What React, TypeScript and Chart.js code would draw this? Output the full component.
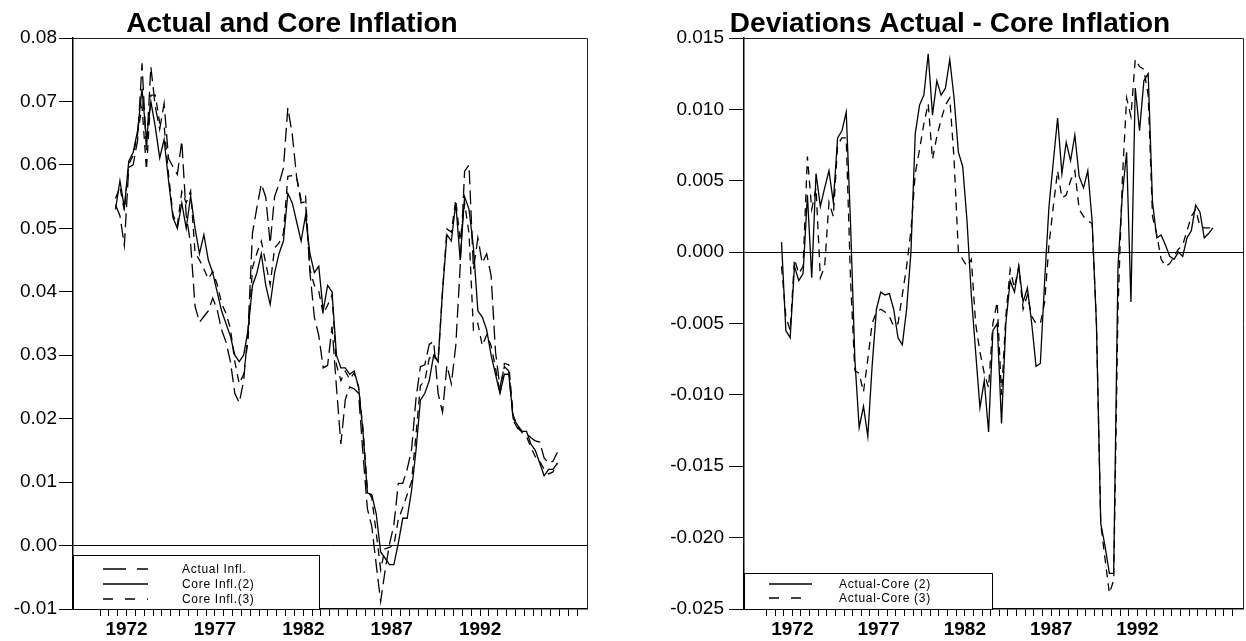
import React, { useEffect, useRef } from "react";
import { Chart, registerables } from "chart.js";

Chart.register(...registerables);

const FONT = '"Liberation Sans", Arial, Helvetica, sans-serif';

// Quarterly observations, 1971 Q2 – 1996 Q2, plotted at mid-quarter.
const FIRST_QUARTER = 1971.375;
const QUARTER_COUNT = 101;
const quarterTimes = Array.from({ length: QUARTER_COUNT }, (_, i) => FIRST_QUARTER + i * 0.25);

// Year-on-year inflation rates
const actualInfl = [
  0.0537, 0.052, 0.0473,
  0.0596, 0.06, 0.0639, 0.076,
  0.0622, 0.0755, 0.0692, 0.0656,
  0.0697, 0.061, 0.0597, 0.0585,
  0.0638, 0.052, 0.0476, 0.0377,
  0.0352, 0.0361, 0.037, 0.039,
  0.0372, 0.034, 0.0321, 0.029,
  0.024, 0.0225, 0.026, 0.034,
  0.0493, 0.0533, 0.057, 0.0549,
  0.0476, 0.055, 0.057, 0.0595,
  0.069, 0.0648, 0.058, 0.054,
  0.0542, 0.043, 0.036, 0.0331,
  0.028, 0.0284, 0.0345, 0.025,
  0.016, 0.023, 0.025, 0.0247,
  0.024, 0.0145, 0.0058, 0.003,
  -0.003, -0.0088, -0.004, 0.0002,
  0.0033, 0.0098, 0.0098, 0.012,
  0.0151, 0.0232, 0.0282, 0.0285,
  0.0317, 0.0322, 0.024, 0.021,
  0.0284, 0.0255, 0.0315, 0.044,
  0.059, 0.06, 0.0435, 0.0485,
  0.0445, 0.046, 0.0425, 0.0305,
  0.025, 0.0282, 0.0275, 0.0197,
  0.0185, 0.018, 0.0177, 0.017,
  0.0165, 0.0163, 0.0138, 0.013,
  0.0133, 0.0147,
];

const coreInfl2 = [
  0.053, 0.0575, 0.0533,
  0.0606, 0.062, 0.0654, 0.072,
  0.064, 0.07, 0.066, 0.0611,
  0.064, 0.0575, 0.0517, 0.05,
  0.054, 0.05, 0.0551, 0.05,
  0.046, 0.049, 0.045, 0.043,
  0.04, 0.037, 0.035, 0.033,
  0.03, 0.029, 0.03, 0.034,
  0.041, 0.043, 0.046, 0.041,
  0.038, 0.043, 0.046, 0.048,
  0.0555, 0.054, 0.051, 0.048,
  0.052, 0.046, 0.043, 0.044,
  0.037, 0.041, 0.04, 0.03,
  0.028, 0.028, 0.027, 0.0275,
  0.025, 0.018, 0.0083, 0.008,
  0.005, -0.001, -0.002, -0.003,
  -0.003, 0.0004, 0.0043, 0.0043,
  0.0087, 0.015, 0.0229, 0.024,
  0.026, 0.03, 0.029, 0.04,
  0.049, 0.048, 0.054, 0.045,
  0.055, 0.053, 0.047, 0.037,
  0.036, 0.034, 0.03, 0.027,
  0.024, 0.027, 0.027, 0.02,
  0.019, 0.018, 0.018, 0.016,
  0.015, 0.013, 0.011, 0.012,
  0.012, 0.013,
];

const coreInfl3 = [
  0.0547, 0.0565, 0.0528,
  0.0601, 0.0615, 0.0649, 0.0693,
  0.0592, 0.071, 0.071, 0.0666,
  0.0662, 0.0585, 0.0522, 0.0505,
  0.0558, 0.054, 0.0559, 0.0462,
  0.045, 0.0436, 0.042, 0.0432,
  0.0412, 0.0382, 0.0366, 0.0342,
  0.029, 0.0255, 0.027, 0.0325,
  0.0438, 0.0461, 0.048, 0.0445,
  0.0411, 0.0469, 0.0477, 0.0492,
  0.0582, 0.0583, 0.058, 0.0545,
  0.0552, 0.0435, 0.041, 0.0401,
  0.0365, 0.0379, 0.0395, 0.0285,
  0.026, 0.0275, 0.0262, 0.0272,
  0.025, 0.0185, 0.0088, 0.0075,
  0.002, -0.0038, -0.0005, -0.0003,
  0.0001, 0.0041, 0.006, 0.008,
  0.0101, 0.0175, 0.0252, 0.026,
  0.0295, 0.0302, 0.029, 0.04,
  0.0499, 0.0494, 0.0545, 0.048,
  0.054, 0.0492, 0.034, 0.035,
  0.0315, 0.0332, 0.0315, 0.028,
  0.0238, 0.0287, 0.0285, 0.0205,
  0.0188, 0.0178, 0.0172, 0.0155,
  0.014, 0.0133, 0.012, 0.0113,
  0.0116, 0.013,
];

// Actual minus core inflation
const devCore2 = [
  0.0007, -0.0055, -0.006,
  -0.001, -0.002, -0.0015, 0.004,
  -0.0018, 0.0055, 0.0032, 0.0045,
  0.0057, 0.0035, 0.008, 0.0085,
  0.0098, 0.002, -0.0075, -0.0123,
  -0.0108, -0.0129, -0.008, -0.004,
  -0.0028, -0.003, -0.0029, -0.004,
  -0.006, -0.0065, -0.004, 0.0,
  0.0083, 0.0103, 0.011, 0.0139,
  0.0096, 0.012, 0.011, 0.0115,
  0.0135, 0.0108, 0.007, 0.006,
  0.0022, -0.003, -0.007, -0.0109,
  -0.009, -0.0126, -0.0055, -0.005,
  -0.012, -0.005, -0.002, -0.0028,
  -0.001, -0.0035, -0.0025, -0.005,
  -0.008, -0.0078, -0.002, 0.0032,
  0.0063, 0.0094, 0.0055, 0.0077,
  0.0064, 0.0082, 0.0053, 0.0045,
  0.0057, 0.0022, -0.005, -0.019,
  -0.0206, -0.0225, -0.0225, -0.001,
  0.004, 0.007, -0.0035, 0.0115,
  0.0085, 0.012, 0.0125, 0.0035,
  0.001, 0.0012, 0.0005, -0.0003,
  -0.0005, 0.0, -0.0003, 0.001,
  0.0015, 0.0033, 0.0028, 0.001,
  0.0013, 0.0017,
];

const devCore3 = [
  -0.001, -0.0045, -0.0055,
  -0.0005, -0.0015, -0.001, 0.0067,
  0.003, 0.0045, -0.0018, -0.001,
  0.0035, 0.0025, 0.0075, 0.008,
  0.008, -0.002, -0.0083, -0.0085,
  -0.0098, -0.0075, -0.005, -0.0042,
  -0.004, -0.0042, -0.0045, -0.0052,
  -0.005, -0.003, -0.001, 0.0015,
  0.0055, 0.0072, 0.009, 0.0104,
  0.0065, 0.0081, 0.0093, 0.0103,
  0.0108, 0.0065, 0.0, -0.0005,
  -0.001, -0.0005, -0.005, -0.007,
  -0.0085, -0.0095, -0.005, -0.0035,
  -0.01, -0.0045, -0.0012, -0.0025,
  -0.001, -0.004, -0.003, -0.0045,
  -0.005, -0.005, -0.0035, 0.0005,
  0.0032, 0.0057, 0.0038, 0.004,
  0.005, 0.0057, 0.003, 0.0025,
  0.0022, 0.002, -0.005, -0.019,
  -0.0215, -0.0239, -0.023, -0.004,
  0.005, 0.0108, 0.0095, 0.0135,
  0.013, 0.0128, 0.011, 0.0025,
  0.0012, -0.0005, -0.001, -0.0008,
  -0.0003, 0.0002, 0.0005, 0.0015,
  0.0025, 0.003, 0.0018, 0.0017,
  0.0017, 0.0017,
];

const yearLabels = [1972, 1977, 1982, 1987, 1992];
const FIRST_TICK = 1970.5;
const LAST_TICK = 1997.5;

const leftTitle = "Actual and Core Inflation";
const rightTitle = "Deviations Actual - Core Inflation";
const leftLegendLabels = ["Actual Infl.", "Core Infl.(2)", "Core Infl.(3)"];
const rightLegendLabels = ["Actual-Core (2)", "Actual-Core (3)"];

const CANVAS_H = 641;
const PLOT_TOP = 38;
const PLOT_BOTTOM = 609;

type LegendItem = { label: string; dash: number[]; y: number };
type PanelSpec = {
  width: number;
  plotLeft: number;
  plotRight: number;
  xMin: number;
  xMax: number;
  yMin: number;
  yMax: number;
  yStep: number;
  yDigits: number;
  yTickLength: number;
  yLabelGap: number;
  title: string;
  titleX: number;
  datasets: { data: number[]; dash: number[] }[];
  legendBox: { x: number; y: number; w: number; h: number };
  legendSample: [number, number];
  legendTextX: number;
  legendItems: LegendItem[];
};

function toPoints(values: number[]) {
  return values.map((v, i) => ({ x: quarterTimes[i], y: v }));
}

function halfYearTicks() {
  const out: { value: number }[] = [];
  for (let v = FIRST_TICK; v <= LAST_TICK + 1e-9; v += 0.5) out.push({ value: v });
  return out;
}

function buildConfig(spec: PanelSpec): any {
  const framePlugin = {
    id: "frameTitleLegend",
    afterDraw(chart: any) {
      const { ctx, chartArea } = chart;
      ctx.save();
      // top and right edges of the plot box
      ctx.strokeStyle = "#222";
      ctx.lineWidth = 1;
      ctx.beginPath();
      ctx.moveTo(chartArea.left, chartArea.top + 0.5);
      ctx.lineTo(chartArea.right + 0.5, chartArea.top + 0.5);
      ctx.lineTo(chartArea.right + 0.5, chartArea.bottom);
      ctx.stroke();

      // title
      ctx.fillStyle = "#000";
      ctx.font = `bold 28px ${FONT}`;
      ctx.textAlign = "center";
      ctx.textBaseline = "alphabetic";
      ctx.fillText(spec.title, spec.titleX, 32);

      // legend box
      const b = spec.legendBox;
      ctx.fillStyle = "#fff";
      ctx.fillRect(b.x, b.y, b.w, b.h);
      ctx.strokeStyle = "#000";
      ctx.lineWidth = 1;
      ctx.strokeRect(b.x + 0.5, b.y + 0.5, b.w, b.h);
      spec.legendItems.forEach((it) => {
        ctx.save();
        ctx.setLineDash(it.dash);
        ctx.lineWidth = 1.6;
        ctx.strokeStyle = "#000";
        ctx.beginPath();
        ctx.moveTo(spec.legendSample[0], it.y);
        ctx.lineTo(spec.legendSample[1], it.y);
        ctx.stroke();
        ctx.restore();
        ctx.save();
        ctx.fillStyle = "#000";
        ctx.font = `12px ${FONT}`;
        (ctx as any).letterSpacing = "0.7px";
        ctx.textAlign = "left";
        ctx.textBaseline = "middle";
        ctx.fillText(it.label, spec.legendTextX, it.y + 0.5);
        ctx.restore();
      });
      ctx.restore();
    },
  };

  return {
    type: "line",
    data: {
      datasets: spec.datasets.map((d) => ({
        data: toPoints(d.data),
        borderColor: "#000",
        borderWidth: 1.3,
        borderDash: d.dash,
        pointRadius: 0,
        tension: 0,
        fill: false,
      })),
    },
    options: {
      animation: false,
      responsive: false,
      events: [],
      layout: {
        padding: { left: 0, top: PLOT_TOP, right: spec.width - spec.plotRight, bottom: 0 },
      },
      plugins: {
        legend: { display: false },
        tooltip: { enabled: false },
        title: { display: false },
      },
      scales: {
        x: {
          type: "linear",
          min: spec.xMin,
          max: spec.xMax,
          afterBuildTicks: (scale: any) => {
            scale.ticks = halfYearTicks();
          },
          afterFit: (scale: any) => {
            scale.height = CANVAS_H - PLOT_BOTTOM;
          },
          border: { color: "#000", width: 1.5 },
          grid: { drawOnChartArea: false, tickLength: 7, color: "#000", lineWidth: 1 },
          ticks: {
            autoSkip: false,
            maxRotation: 0,
            padding: 2,
            color: "#000",
            font: { family: FONT, size: 19, weight: "bold" },
            callback: (v: number) => (yearLabels.includes(v) ? String(v) : ""),
          },
        },
        y: {
          type: "linear",
          min: spec.yMin,
          max: spec.yMax,
          afterFit: (scale: any) => {
            scale.width = spec.plotLeft;
          },
          border: { color: "#000", width: 1.5 },
          grid: {
            drawOnChartArea: true,
            color: (c: any) =>
              c.tick && Math.abs(c.tick.value) < 1e-9 ? "#000" : "rgba(0,0,0,0)",
            tickColor: "#000",
            tickLength: spec.yTickLength,
            lineWidth: 1,
          },
          ticks: {
            stepSize: spec.yStep,
            padding: spec.yLabelGap,
            color: "#000",
            font: { family: FONT, size: 19 },
            callback: (v: number) =>
              Math.abs(v) < 1e-9 ? (0).toFixed(spec.yDigits) : Number(v).toFixed(spec.yDigits),
          },
        },
      },
    },
    plugins: [framePlugin],
  };
}

const LEFT_W = 620;
const RIGHT_X = 620;
const RIGHT_W = 1246 - RIGHT_X;

const leftSpec: PanelSpec = {
  width: LEFT_W,
  plotLeft: 73,
  plotRight: 587,
  xMin: 1968.97,
  xMax: 1998.05,
  yMin: -0.01,
  yMax: 0.08,
  yStep: 0.01,
  yDigits: 2,
  yTickLength: 14,
  yLabelGap: 2,
  title: leftTitle,
  titleX: 292,
  datasets: [
    { data: actualInfl, dash: [14, 6] },
    { data: coreInfl2, dash: [] },
    { data: coreInfl3, dash: [8, 6] },
  ],
  legendBox: { x: 73, y: 555, w: 246, h: 54 },
  legendSample: [103, 148],
  legendTextX: 182,
  legendItems: [
    { label: leftLegendLabels[0], dash: [23, 11], y: 569 },
    { label: leftLegendLabels[1], dash: [], y: 584 },
    { label: leftLegendLabels[2], dash: [10, 12], y: 599 },
  ],
};

const rightSpec: PanelSpec = {
  width: RIGHT_W,
  plotLeft: 744 - RIGHT_X,
  plotRight: 1243 - RIGHT_X,
  xMin: 1969.2,
  xMax: 1998.12,
  yMin: -0.025,
  yMax: 0.015,
  yStep: 0.005,
  yDigits: 3,
  yTickLength: 15,
  yLabelGap: 5,
  title: rightTitle,
  titleX: 950 - RIGHT_X,
  datasets: [
    { data: devCore2, dash: [] },
    { data: devCore3, dash: [8, 6] },
  ],
  legendBox: { x: 744 - RIGHT_X, y: 573, w: 248, h: 36 },
  legendSample: [769 - RIGHT_X, 812 - RIGHT_X],
  legendTextX: 839 - RIGHT_X,
  legendItems: [
    { label: rightLegendLabels[0], dash: [], y: 584 },
    { label: rightLegendLabels[1], dash: [10, 12], y: 598 },
  ],
};

function Panel({ spec, left }: { spec: PanelSpec; left: number }) {
  const ref = useRef<HTMLCanvasElement | null>(null);
  useEffect(() => {
    if (!ref.current) return;
    const chart = new Chart(ref.current, buildConfig(spec));
    return () => chart.destroy();
  }, [spec]);
  return (
    <canvas
      ref={ref}
      width={spec.width}
      height={CANVAS_H}
      style={{ position: "absolute", left, top: 0, width: spec.width, height: CANVAS_H }}
    />
  );
}

export default function App() {
  return (
    <div
      style={{
        position: "absolute",
        left: 0,
        top: 0,
        width: 1246,
        height: CANVAS_H,
        background: "#fff",
        overflow: "hidden",
      }}
    >
      <Panel spec={leftSpec} left={0} />
      <Panel spec={rightSpec} left={RIGHT_X} />
    </div>
  );
}
